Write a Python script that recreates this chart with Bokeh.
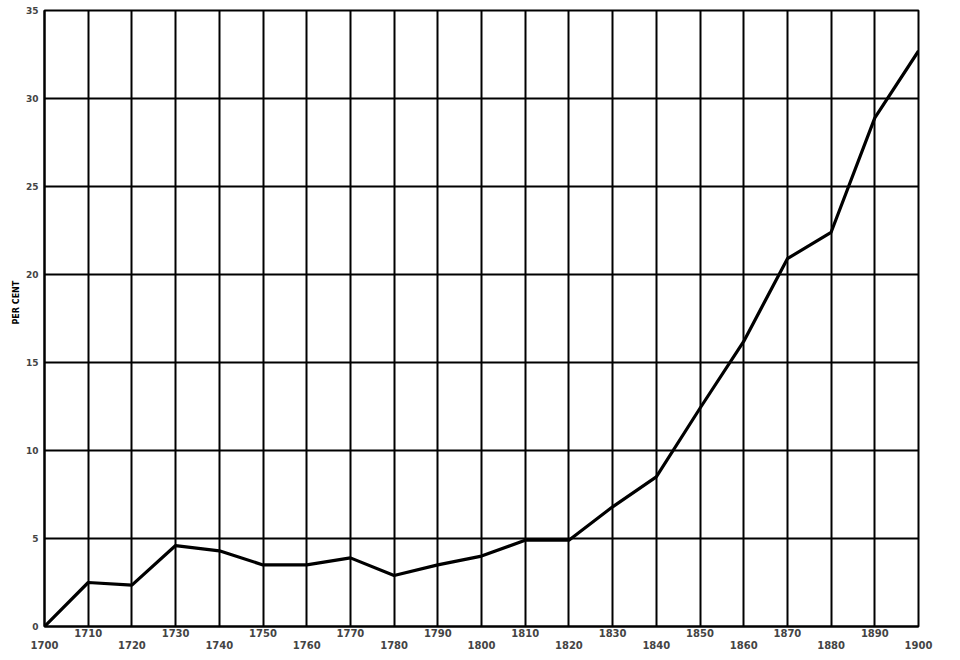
from bokeh.plotting import figure
from bokeh.models import LinearAxis, FixedTicker, Range1d, Title
from bokeh.embed import file_html
from bokeh.resources import INLINE

years = [1700, 1710, 1720, 1730, 1740, 1750, 1760, 1770, 1780, 1790, 1800,
         1810, 1820, 1830, 1840, 1850, 1860, 1870, 1880, 1890, 1900]
per_cent = [0.0, 2.5, 2.35, 4.6, 4.3, 3.5, 3.5, 3.9, 2.9, 3.5, 4.0,
            4.9, 4.9, 6.8, 8.5, 12.4, 16.2, 20.9, 22.4, 28.9, 32.7]
y_ticks = [0, 5, 10, 15, 20, 25, 30, 35]
x_ticks_upper = [1710, 1730, 1750, 1770, 1790, 1810, 1830, 1850, 1870, 1890]
x_ticks_lower = [1700, 1720, 1740, 1760, 1780, 1800, 1820, 1840, 1860, 1880, 1900]
y_label = "PER CENT"

FONT = "DejaVu Sans"

p = figure(width=950, height=656, output_backend="svg", toolbar_location=None,
           x_range=Range1d(1700, 1900), y_range=Range1d(0, 35),
           x_axis_location=None, min_border_top=10, min_border_left=44,
           min_border_right=32, min_border_bottom=30)
p.background_fill_color = "white"
p.border_fill_color = "white"
p.outline_line_color = "black"
p.outline_line_width = 2

# Grid
p.xgrid.ticker = FixedTicker(ticks=years)
p.ygrid.ticker = FixedTicker(ticks=y_ticks)
for g in (p.xgrid, p.ygrid):
    g.grid_line_color = "black"
    g.grid_line_width = 2
    g.grid_line_alpha = 1.0

# Y axis
ya = p.yaxis[0]
ya.ticker = FixedTicker(ticks=y_ticks)
ya.major_label_text_font = FONT
ya.major_label_text_font_style = "bold"
ya.major_label_text_font_size = "9px"
ya.major_label_standoff = 6
ya.major_tick_out = 0
ya.major_tick_in = 0
ya.minor_tick_out = 0
ya.minor_tick_in = 0
ya.axis_line_color = "black"
ya.axis_line_width = 2

# Y axis title as a side title, shifted slightly above centre as in the original
p.add_layout(Title(text=y_label, align="left", offset=302, standoff=4,
                   text_font=FONT, text_font_style="bold",
                   text_font_size="8px", text_color="black"), "left")

# Two staggered x axes
def make_xaxis(ticks, standoff, line):
    ax = LinearAxis(ticker=FixedTicker(ticks=ticks))
    ax.major_label_text_font = FONT
    ax.major_label_text_font_style = "bold"
    ax.major_label_text_font_size = "10px"
    ax.major_label_standoff = standoff
    ax.major_tick_out = 0
    ax.major_tick_in = 0
    ax.minor_tick_out = 0
    ax.minor_tick_in = 0
    if line:
        ax.axis_line_color = "black"
        ax.axis_line_width = 2
    else:
        ax.axis_line_color = None
    return ax

p.add_layout(make_xaxis(x_ticks_upper, 2, True), "below")
p.add_layout(make_xaxis(x_ticks_lower, 1, False), "below")

p.line(years, per_cent, line_color="black", line_width=3.2, line_join="round")

open("out.html", "w").write(file_html(p, INLINE))
